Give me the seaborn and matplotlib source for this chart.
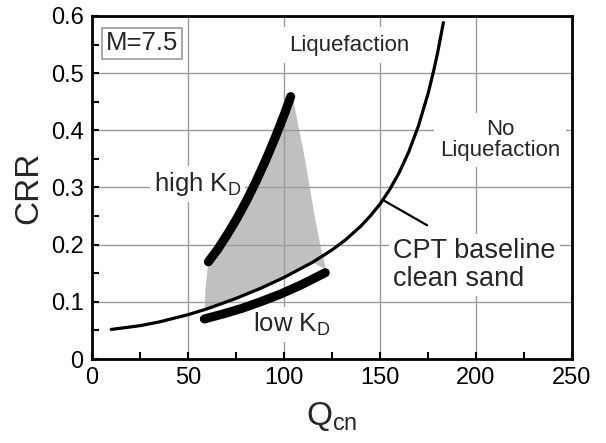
import matplotlib
matplotlib.use("Agg")
import matplotlib.pyplot as plt
import seaborn as sns
import pandas as pd
from matplotlib.ticker import MultipleLocator

# ---- data ----
base_q = [10, 25, 35, 50, 60, 75, 88, 100, 115, 125, 132, 140, 145, 150, 155, 160, 165, 170, 175, 178, 180, 183]
base_crr = [0.0517, 0.0583, 0.0648, 0.0775, 0.0878, 0.1060, 0.1240, 0.1426, 0.1694, 0.1908, 0.2083,
            0.2324, 0.2504, 0.2710, 0.2962, 0.3261, 0.3625, 0.4075, 0.4639, 0.5048, 0.5357, 0.5884]

high_q = [60.6, 65.5, 70.5, 75.5, 80.5, 85.5, 90.5, 95.5, 100.5, 103.5]
high_crr = [0.170, 0.192, 0.218, 0.246, 0.277, 0.311, 0.348, 0.388, 0.431, 0.459]

low_q = [58.5, 68.5, 78.5, 88.5, 98.5, 108.5, 121.5]
low_crr = [0.070, 0.079, 0.089, 0.101, 0.114, 0.129, 0.151]

# shaded zone outline (upper edge along high K_D, right edge, lower edge along baseline)
zone_q = [58.8, 59.0, 60.6, 65.5, 70.5, 75.5, 80.5, 85.5, 90.5, 95.5, 100.5, 104.7, 111, 116, 119.5, 122,
          115, 100, 88, 75, 60, 58.8]
zone_crr = [0.088, 0.120, 0.170, 0.192, 0.218, 0.246, 0.277, 0.311, 0.348, 0.388, 0.431, 0.456,
            0.348, 0.249, 0.190, 0.156, 0.1694, 0.1426, 0.1240, 0.1060, 0.0878, 0.088]

x_ticks = [0, 50, 100, 150, 200, 250]
y_ticks = [0, 0.1, 0.2, 0.3, 0.4, 0.5, 0.6]
y_tick_labels = ["0", "0.1", "0.2", "0.3", "0.4", "0.5", "0.6"]

sns.set_style("white")
plt.rcParams["font.family"] = ["Liberation Sans", "DejaVu Sans"]
plt.rcParams["mathtext.fontset"] = "custom"
plt.rcParams["mathtext.rm"] = "Liberation Sans"
plt.rcParams["mathtext.it"] = "Liberation Sans"

fig = plt.figure(figsize=(6.06, 4.43), dpi=100)
ax = fig.add_axes([92 / 606, 1 - 359 / 443, 480 / 606, 343 / 443])

ax.fill(zone_q, zone_crr, color="#c0c0c0", lw=0, zorder=1)
ax.grid(True, color="#9c9c9c", lw=1.0, zorder=2)
ax.set_axisbelow(False)
for gl in ax.get_xgridlines() + ax.get_ygridlines():
    gl.set_zorder(2)

df_base = pd.DataFrame({"q": base_q, "crr": base_crr})
df_high = pd.DataFrame({"q": high_q, "crr": high_crr})
df_low = pd.DataFrame({"q": low_q, "crr": low_crr})

sns.lineplot(data=df_base, x="q", y="crr", ax=ax, color="black", lw=2.3, sort=False,
             solid_capstyle="round", zorder=5)
sns.lineplot(data=df_high, x="q", y="crr", ax=ax, color="black", lw=6.5, sort=False,
             solid_capstyle="round", solid_joinstyle="round", zorder=5)
sns.lineplot(data=df_low, x="q", y="crr", ax=ax, color="black", lw=6.5, sort=False,
             solid_capstyle="round", solid_joinstyle="round", zorder=5)

# leader line for the baseline label
ax.plot([151.6, 174.5], [0.278, 0.234], color="black", lw=1.6, zorder=5)

ax.set_xlim(0, 250)
ax.set_ylim(0, 0.6)
ax.set_xticks(x_ticks)
ax.set_yticks(y_ticks)
ax.set_yticklabels(y_tick_labels)
ax.xaxis.set_minor_locator(MultipleLocator(25))
ax.yaxis.set_minor_locator(MultipleLocator(0.05))
ax.tick_params(axis="both", which="both", direction="in", length=5, width=1.5,
               labelsize=17, pad=6, colors="black", bottom=True, left=True,
               top=False, right=False)

for s in ax.spines.values():
    s.set_linewidth(2.0)
    s.set_color("black")
    s.set_zorder(6)

ax.set_xlabel(r"Q$_{\mathrm{cn}}$", fontsize=24, labelpad=8)
ax.set_ylabel("CRR", fontsize=24, labelpad=5)

white = dict(boxstyle="square,pad=0.15", fc="white", ec="none")
ax.text(7.0, 0.552, "M=7.5", fontsize=18.5, ha="left", va="center", zorder=7,
        bbox=dict(boxstyle="square,pad=0.15", fc="white", ec="#9a9a9a", lw=1.2))
ax.text(134, 0.549, "Liquefaction", fontsize=16, ha="center", va="center", zorder=3,
        bbox=dict(boxstyle="square,pad=0.35", fc="white", ec="none"))
ax.text(212.5, 0.383, "No\nLiquefaction", fontsize=16, ha="center", va="center", zorder=3,
        linespacing=1.05, bbox=dict(boxstyle="square,pad=0.25", fc="white", ec="none"))
ax.text(157, 0.164, "CPT baseline\nclean sand", fontsize=19.5, ha="left", va="center", zorder=3,
        linespacing=1.1, bbox=dict(boxstyle="square,pad=0.15", fc="white", ec="none"))
ax.text(55, 0.306, r"high K$_{\mathrm{D}}$", fontsize=18.5, ha="center", va="center", zorder=3,
        bbox=white)
ax.text(104, 0.061, r"low K$_{\mathrm{D}}$", fontsize=18.5, ha="center", va="center", zorder=3,
        bbox=white)

fig.savefig("out.png", dpi=100)
